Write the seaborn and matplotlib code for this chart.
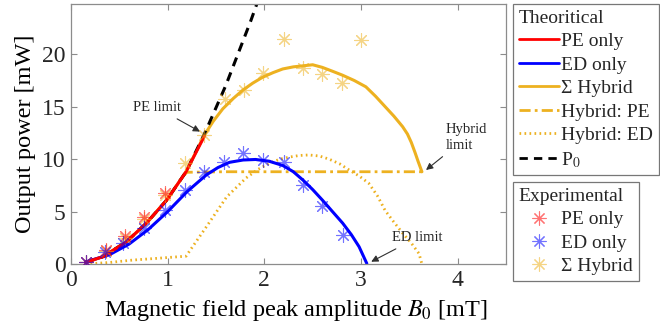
import matplotlib
matplotlib.use("Agg")
import matplotlib.pyplot as plt
import seaborn as sns
from matplotlib.lines import Line2D

# ---------------- data ----------------
# Theoretical curves
pe_x = [0.15, 0.33, 0.57, 0.78, 0.99, 1.19, 1.38]
pe_y = [0.16, 0.7, 2.1, 3.9, 6.1, 8.8, 12.2]

ed_x = [0.15, 0.4, 0.6, 0.8, 1.0, 1.2, 1.4, 1.52, 1.64, 1.78, 1.91, 2.05, 2.19, 2.30,
        2.40, 2.50, 2.60, 2.70, 2.81, 2.90, 2.98, 3.06]
ed_y = [0.2, 0.9, 1.9, 3.3, 5.0, 6.9, 8.5, 9.2, 9.7, 9.92, 9.97, 9.8, 9.4, 8.8,
        8.0, 7.1, 6.1, 5.05, 3.9, 2.8, 1.65, 0.05]

hyb_x = [0.15, 0.33, 0.57, 0.78, 0.99, 1.19, 1.38, 1.47, 1.57, 1.68, 1.78, 1.88, 1.98,
         2.09, 2.19, 2.30, 2.40, 2.50, 2.60, 2.70, 2.81, 2.93, 3.05, 3.15, 3.25, 3.34,
         3.43, 3.48, 3.52, 3.56, 3.59, 3.61, 3.63]
hyb_y = [0.16, 0.7, 2.1, 3.9, 6.1, 8.8, 12.3, 13.6, 14.8, 15.8, 16.6, 17.25, 17.8,
         18.25, 18.6, 18.8, 18.9, 19.0, 18.75, 18.4, 18.0, 17.5, 16.9, 16.0, 15.0, 14.1,
         13.1, 12.4, 11.6, 10.6, 9.8, 9.3, 8.8]

hpe_x = [0.15, 0.33, 0.57, 0.78, 0.99, 1.15, 1.2, 1.6, 2.0, 2.5, 3.0, 3.4, 3.63]
hpe_y = [0.16, 0.7, 2.1, 3.9, 6.1, 8.3, 8.75, 8.8, 8.8, 8.8, 8.8, 8.8, 8.8]

hed_x = [0.15, 0.4, 0.64, 0.9, 1.19, 1.40, 1.61, 1.81, 1.93, 2.05, 2.16, 2.26, 2.36,
         2.46, 2.57, 2.67, 2.78, 2.88, 2.98, 3.08, 3.17, 3.25, 3.34, 3.43, 3.52, 3.6, 3.63]
hed_y = [0.0, 0.15, 0.38, 0.55, 0.75, 3.55, 6.4, 8.2, 9.0, 9.6, 10.0, 10.2, 10.35,
         10.4, 10.3, 10.0, 9.55, 8.95, 8.4, 7.7, 6.5, 5.1, 4.0, 2.95, 2.0, 1.0, 0.0]

p0_x = [0.15, 0.33, 0.57, 0.78, 0.99, 1.19, 1.38, 1.6, 1.86, 1.93]
p0_y = [0.16, 0.7, 2.1, 3.9, 6.1, 8.8, 12.4, 17.0, 23.2, 25.0]

# Experimental points
exp_pe_x = [0.15, 0.36, 0.56, 0.76, 0.97]
exp_pe_y = [0.22, 1.33, 2.67, 4.5, 6.76]

exp_ed_x = [0.15, 0.35, 0.54, 0.76, 0.97, 1.18, 1.38, 1.58, 1.78, 1.99, 2.2, 2.4, 2.6, 2.81]
exp_ed_y = [0.22, 1.17, 1.97, 3.4, 5.14, 7.05, 8.8, 9.75, 10.6, 9.9, 9.75, 7.5, 5.5, 2.76]

exp_hy_x = [0.15, 0.36, 0.56, 0.76, 0.97, 1.18, 1.38, 1.59, 1.79, 1.99, 2.2, 2.4, 2.6, 2.8, 3.0]
exp_hy_y = [0.22, 1.2, 2.5, 4.3, 6.6, 9.6, 12.3, 15.7, 16.6, 18.2, 21.5, 18.7, 18.1, 17.3, 21.4]

# ---------------- style ----------------
sns.set_theme(style="ticks")
plt.rcParams["font.family"] = ["Liberation Serif", "DejaVu Serif"]
plt.rcParams["mathtext.fontset"] = "stix"

RED = "#FF0000"
BLUE = "#0000FF"
ORANGE = "#EDB120"
GREY = "#8c8c8c"
TXT = "#262626"

DASHDOT = (0, (4, 1.5, 1, 1.5))
DOTTED = (0, (0.6, 1.2))
DASHED = (0, (3, 2.2))

fig = plt.figure(figsize=(6.6, 3.28), dpi=100)
ax = fig.add_axes([0.1076, 0.195, 0.6591, 0.793])

lw = 2.2
sns.lineplot(x=hpe_x, y=hpe_y, ax=ax, color=ORANGE, lw=2.0, linestyle=DASHDOT,
             estimator=None, sort=False)
sns.lineplot(x=hed_x, y=hed_y, ax=ax, color=ORANGE, lw=2.0, linestyle=DOTTED,
             estimator=None, sort=False)
sns.lineplot(x=hyb_x, y=hyb_y, ax=ax, color=ORANGE, lw=lw, estimator=None, sort=False)
sns.lineplot(x=p0_x, y=p0_y, ax=ax, color="black", lw=lw, linestyle=DASHED,
             estimator=None, sort=False)
sns.lineplot(x=ed_x, y=ed_y, ax=ax, color=BLUE, lw=lw, estimator=None, sort=False)
sns.lineplot(x=pe_x, y=pe_y, ax=ax, color=RED, lw=lw, estimator=None, sort=False)

star = (8, 2, 0)
for xs, ys, c in [(exp_hy_x, exp_hy_y, ORANGE), (exp_pe_x, exp_pe_y, RED), (exp_ed_x, exp_ed_y, BLUE)]:
    sns.scatterplot(x=xs, y=ys, ax=ax, marker=star, s=100, color=c, alpha=0.55,
                    linewidth=0.8, zorder=5)

ax.set_xlim(0, 4.5)
ax.set_ylim(0, 24.8)
ax.set_xticks([0, 1, 2, 3, 4])
ax.set_yticks([0, 5, 10, 15, 20])
ax.tick_params(direction="in", length=4, width=0.8, colors=GREY, labelcolor=TXT,
               labelsize=17, top=True, right=True, pad=4)
for sp in ax.spines.values():
    sp.set_visible(True)
    sp.set_color(GREY)
    sp.set_linewidth(0.9)
ax.set_xlabel("Magnetic field peak amplitude $B_0$ [mT]", fontsize=17.5, color="black")
ax.xaxis.set_label_coords(0.517, -0.13)
ax.set_ylabel("Output power [mW]", fontsize=17.5, color="black", labelpad=4)

ann = dict(arrowstyle="-|>", color="#303030", lw=0.8, mutation_scale=10)
ax.annotate("PE limit", xy=(1.36, 12.5), xytext=(0.89, 14.9), fontsize=10.5,
            ha="center", va="center", arrowprops=ann)
ax.annotate("Hybrid\nlimit", xy=(3.65, 8.8), xytext=(3.88, 12.1), fontsize=10.5,
            ha="left", va="center", arrowprops=ann, linespacing=1.3)
ax.annotate("ED limit", xy=(3.08, 0.1), xytext=(3.58, 2.5), fontsize=10.5,
            ha="center", va="center", arrowprops=ann)

# Legends
th_handles = [
    Line2D([], [], color=RED, lw=2),
    Line2D([], [], color=BLUE, lw=2),
    Line2D([], [], color=ORANGE, lw=2),
    Line2D([], [], color=ORANGE, lw=2, linestyle=DASHDOT),
    Line2D([], [], color=ORANGE, lw=2, linestyle=DOTTED),
    Line2D([], [], color="black", lw=2, linestyle=DASHED),
]
th_labels = ["PE only", "ED only", "\u03a3 Hybrid", "Hybrid: PE", "Hybrid: ED", "P$_0$"]
common = dict(loc="upper left", fontsize=14, title_fontsize=14, handlelength=2.1,
              handletextpad=0.1, labelspacing=0.3, borderpad=0.3, borderaxespad=0,
              frameon=True, fancybox=False, alignment="left")
leg1 = fig.legend(th_handles, th_labels, title="Theoritical",
                  bbox_to_anchor=(0.777, 0.988), **common)
leg1.get_frame().set_edgecolor("#555555")
leg1.get_frame().set_linewidth(0.9)

ex_handles = [
    Line2D([], [], color=c, marker=star, markersize=10, linestyle="none", alpha=0.55, mew=0.8)
    for c in (RED, BLUE, ORANGE)
]
leg2 = fig.legend(ex_handles, ["PE only", "ED only", "\u03a3 Hybrid"], title="Experimental",
                  bbox_to_anchor=(0.777, 0.445), **common)
leg2.get_frame().set_edgecolor("#555555")
leg2.get_frame().set_linewidth(0.9)

fig.savefig("out.png", dpi=100)
